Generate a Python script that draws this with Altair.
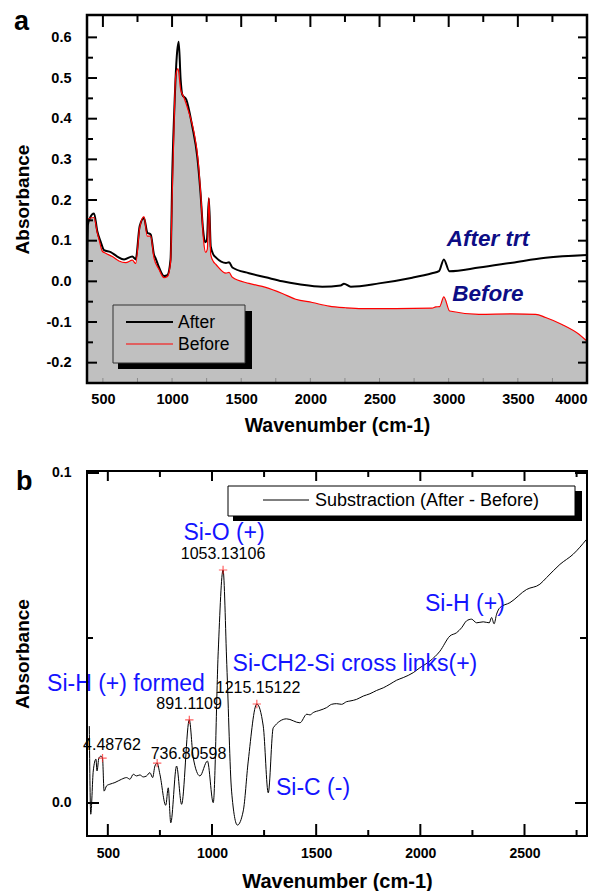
import altair as alt
import pandas as pd

FONT = "Liberation Sans"

# ---------------- panel a : spectra ----------------
after_wn = [385, 392, 405, 436, 459, 484, 508, 556, 604, 653, 713, 737, 766, 797, 821, 846, 869, 882,
            906, 942, 966, 989, 1002, 1019, 1034, 1048, 1062, 1074, 1103, 1146, 1182, 1205, 1224, 1238,
            1252, 1266, 1280, 1300, 1316, 1390, 1412, 1436, 1556, 1677, 1797, 1918, 2086, 2219, 2243,
            2292, 2496, 2737, 2879, 2930, 2965, 3005, 3219, 3460, 3701, 4000]
after_abs = [0.005, 0.14, 0.155, 0.167, 0.124, 0.097, 0.077, 0.072, 0.061, 0.054, 0.061, 0.054, 0.136,
             0.156, 0.12, 0.115, 0.066, 0.056, 0.034, 0.013, 0.015, 0.054, 0.27, 0.447, 0.553, 0.589,
             0.496, 0.459, 0.447, 0.381, 0.307, 0.22, 0.128, 0.096, 0.103, 0.204, 0.085, 0.065, 0.059,
             0.045, 0.047, 0.034, 0.02, 0.01, 0.0, -0.007, -0.013, -0.010, -0.006, -0.013, -0.005,
             0.009, 0.020, 0.025, 0.054, 0.025, 0.034, 0.046, 0.058, 0.065]

before_wn = [385, 388, 436, 459, 472, 496, 520, 568, 616, 665, 713, 737, 766, 797, 821, 846, 869, 906,
             942, 966, 989, 1000, 1013, 1026, 1043, 1062, 1086, 1122, 1159, 1190, 1210, 1228, 1243,
             1255, 1266, 1280, 1300, 1316, 1390, 1412, 1436, 1556, 1677, 1797, 1894, 2014, 2135, 2255,
             2373, 2617, 2879, 2906, 2935, 2965, 3007, 3219, 3458, 3629, 3701, 3819, 3942, 4000]
before_abs = [-0.25, 0.152, 0.157, 0.12, 0.103, 0.074, 0.069, 0.061, 0.05, 0.046, 0.052, 0.044, 0.132,
              0.159, 0.111, 0.111, 0.058, 0.029, 0.009, 0.012, 0.046, 0.2, 0.366, 0.504, 0.523, 0.472,
              0.452, 0.415, 0.366, 0.292, 0.2, 0.1, 0.071, 0.079, 0.206, 0.065, 0.048, 0.042, 0.02,
              0.022, 0.010, -0.005, -0.015, -0.03, -0.044, -0.052, -0.061, -0.065, -0.067, -0.067,
              -0.066, -0.063, -0.062, -0.038, -0.073, -0.081, -0.080, -0.081, -0.089, -0.106, -0.130,
              -0.147]

a_x_major = [500, 1000, 1500, 2000, 2500, 3000, 3500, 4000]
a_x_minor = [750, 1250, 1750, 2250, 2750, 3250, 3750]
a_x_bottom = [500, 750, 1000, 1250, 1500, 1750, 2000, 2250, 2500, 2750, 3000, 3250, 3500, 3750]
a_y_major = [-0.2, -0.1, 0.0, 0.1, 0.2, 0.3, 0.4, 0.5, 0.6]
a_y_minor = [-0.25, -0.15, -0.05, 0.05, 0.15, 0.25, 0.35, 0.45, 0.55]

a_tag_text = ["After trt", "Before"]
a_tag_x = [3284, 3284]
a_tag_y = [0.103, -0.032]
a_legend = ["After", "Before"]

# ---------------- panel b : difference spectrum ----------------
sub_wn = [411, 418, 430, 443, 448, 457, 467, 474.5, 482, 494, 510, 534, 550, 566, 590, 606, 622, 638,
          654, 670, 686, 702, 715, 726, 736.8, 750, 778, 790, 802, 830, 854, 891.1, 910, 942, 978,
          1006, 1030, 1053.1, 1071, 1094, 1122, 1150, 1174, 1215.2, 1246, 1270, 1294, 1358, 1422,
          1455, 1470, 1486, 1518, 1550, 1574, 1598, 1622, 1646, 1662, 1694, 1726, 1758, 1790, 1822,
          1854, 1886, 1918, 1966, 1998, 2046, 2094, 2142, 2174, 2198, 2222, 2246, 2270, 2302, 2331,
          2342, 2354, 2366, 2382, 2430, 2510, 2574, 2606, 2670, 2734, 2798]
sub_abs = [0.0233, -0.0034, 0.0097, 0.0133, 0.0097, 0.0136, 0.0142, 0.0136, 0.0036, 0.0052, 0.0057,
           0.0062, 0.0067, 0.0072, 0.0077, 0.0072, 0.0087, 0.0082, 0.0085, 0.0079, 0.0082, 0.0092,
           0.0077, 0.0112, 0.0121, 0.0087, -0.0007, 0.0046, -0.006, 0.0112, -0.0004, 0.0252, 0.0137,
           0.0082, 0.0127, 0.0001, 0.046, 0.0706, 0.042, 0.0036, -0.0067, -0.0024, 0.0127, 0.030,
           0.0233, 0.0031, 0.0228, 0.0255, 0.0243, 0.0269, 0.0267, 0.0274, 0.0281, 0.0289, 0.0299,
           0.0301, 0.0299, 0.0307, 0.0309, 0.0314, 0.0324, 0.0331, 0.0341, 0.0349, 0.0360, 0.0372,
           0.0380, 0.0395, 0.0410, 0.0430, 0.0460, 0.0506, 0.0516, 0.0531, 0.0552, 0.0557, 0.0546,
           0.0549, 0.0546, 0.0562, 0.0543, 0.0572, 0.0592, 0.0607, 0.0647, 0.0663, 0.0683, 0.0723,
           0.0754, 0.0799]

peak_wn = [474.48762, 736.80598, 891.1109, 1053.13106, 1215.15122]
peak_abs = [0.0136, 0.0121, 0.0252, 0.0706, 0.030]
num_text = ["4.48762", "736.80598", "891.1109", "1053.13106", "1215.15122"]
num_x = [520, 887, 890, 1053, 1221]
num_y = [0.0176, 0.0148, 0.030, 0.0755, 0.0348]
band_text = ["Si-O (+)", "Si-H (+)", "Si-CH2-Si cross links(+)", "Si-H (+) formed", "Si-C (-)"]
band_x = [1058, 2214, 1686, 587, 1485]
band_y = [0.0818, 0.0603, 0.0421, 0.0361, 0.0045]

b_x_major = [500, 1000, 1500, 2000, 2500]
b_x_minor = [750, 1250, 1750, 2250, 2750]
b_y_major = [0.0, 0.1]
b_y_minor = [0.05]
b_legend = ["Substraction (After - Before)"]

# ---------------- helpers ----------------
WA, HA = 500, 368
WB, HB = 500, 365
xa = alt.Scale(domain=[385, 4000], nice=False, zero=False)
ya = alt.Scale(domain=[-0.25, 0.655], nice=False, zero=False)
xb = alt.Scale(domain=[400, 2800], nice=False, zero=False)
yb = alt.Scale(domain=[-0.01, 0.1006], nice=False, zero=False)
MINUS = "replace(format(datum.value, '.1f'), '\u2212', '-')"


def one():
    return alt.Data(values=[{"k": 0}])


def xticks(vals, scale, h, top, length, color="black", width=2):
    df = pd.DataFrame({"v": vals})
    y0, y1 = (0, length) if top else (h - length, h)
    return alt.Chart(df).mark_rule(color=color, strokeWidth=width).encode(
        x=alt.X("v:Q", scale=scale, axis=None), y=alt.value(y0), y2=alt.value(y1))


def yticks(vals, scale, w, left, length, color="black", width=2):
    df = pd.DataFrame({"v": vals})
    x0, x1 = (0, length) if left else (w - length, w)
    return alt.Chart(df).mark_rule(color=color, strokeWidth=width).encode(
        y=alt.Y("v:Q", scale=scale, axis=None), x=alt.value(x0), x2=alt.value(x1))


def box(x0, x1, y0, y1, fill, stroke=None, sw=0):
    kw = dict(fill=fill)
    if stroke:
        kw.update(stroke=stroke, strokeWidth=sw)
    return alt.Chart(one()).mark_rect(**kw).encode(
        x=alt.value(x0), x2=alt.value(x1), y=alt.value(y0), y2=alt.value(y1))


def seg(x0, x1, y, color, sw):
    return alt.Chart(one()).mark_rule(color=color, strokeWidth=sw).encode(
        x=alt.value(x0), x2=alt.value(x1), y=alt.value(y))


def label(txt, x, y, size, weight="normal", color="black", align="left", baseline="middle"):
    return alt.Chart(one()).mark_text(text=txt, font=FONT, fontSize=size, fontWeight=weight,
                                      color=color, align=align, baseline=baseline).encode(
        x=alt.value(x), y=alt.value(y))


def frame(w, h, sw):
    return alt.Chart(one()).mark_rect(fill=None, stroke="black", strokeWidth=sw).encode(
        x=alt.value(0), x2=alt.value(w), y=alt.value(0), y2=alt.value(h))


# ---------------- panel a ----------------
df_after = pd.DataFrame({"wn": after_wn, "abs": after_abs})
df_before = pd.DataFrame({"wn": before_wn, "abs": before_abs})

x_axis_a = alt.Axis(values=a_x_major, format="d", title="Wavenumber (cm-1)", ticks=False, domain=False,
                    grid=False, labelFont=FONT, labelFontSize=14.5, labelFontWeight="bold",
                    labelColor="black", labelPadding=9, labelOverlap=False, titleFont=FONT,
                    titleFontSize=19.5, titleFontWeight="bold", titleColor="black", titlePadding=11)
y_axis_a = alt.Axis(values=a_y_major, labelExpr=MINUS, title="Absorbance", ticks=False, domain=False,
                    grid=False, labelFont=FONT, labelFontSize=14.5, labelFontWeight="bold",
                    labelColor="black", labelPadding=16, labelOverlap=False, titleFont=FONT,
                    titleFontSize=19, titleFontWeight="bold", titleColor="black", titlePadding=14)

area_a = alt.Chart(df_before).mark_area(color="#c0c0c0", interpolate="monotone", clip=True).encode(
    x=alt.X("wn:Q", scale=xa, axis=x_axis_a),
    y=alt.Y("abs:Q", scale=ya, axis=y_axis_a),
    y2=alt.datum(-0.25))
line_after = alt.Chart(df_after).mark_line(color="black", strokeWidth=2, interpolate="monotone",
                                           clip=True).encode(
    x=alt.X("wn:Q", scale=xa, axis=None), y=alt.Y("abs:Q", scale=ya, axis=None))
line_before = alt.Chart(df_before).mark_line(color="#ff0000", strokeWidth=1.2, interpolate="monotone",
                                             clip=True).encode(
    x=alt.X("wn:Q", scale=xa, axis=None), y=alt.Y("abs:Q", scale=ya, axis=None))

tags_a = alt.Chart(pd.DataFrame({"t": a_tag_text, "x": a_tag_x, "y": a_tag_y})).mark_text(
    font=FONT, fontSize=22.5, fontWeight="bold", fontStyle="italic", color="#0d0d85",
    align="center", baseline="middle").encode(
    x=alt.X("x:Q", scale=xa, axis=None), y=alt.Y("y:Q", scale=ya, axis=None), text="t:N")

panel_a = alt.layer(
    area_a, line_after, line_before,
    xticks(a_x_major, xa, HA, True, 12), xticks(a_x_minor, xa, HA, True, 7),
    xticks(a_x_bottom, xa, HA, False, 5, color="#8a8a8a", width=1),
    yticks(a_y_major, ya, WA, True, 10), yticks(a_y_minor, ya, WA, True, 6),
    yticks(a_y_major, ya, WA, False, 9), yticks(a_y_minor, ya, WA, False, 5),
    box(31, 165, 296, 354, "black"),
    box(26, 158, 290, 348, "#c0c0c0", "#333333", 1),
    seg(39, 86, 307, "black", 2), seg(39, 86, 329, "#ff0000", 1.2),
    label(a_legend[0], 91, 308, 17.5), label(a_legend[1], 91, 330, 17.5),
    tags_a,
    frame(WA, HA, 2.5),
    label("a", -73, 15, 27, weight="bold", baseline="alphabetic"),
).resolve_axis(x="independent", y="independent").properties(width=WA, height=HA)

# ---------------- panel b ----------------
df_sub = pd.DataFrame({"wn": sub_wn, "abs": sub_abs})

x_axis_b = alt.Axis(values=b_x_major, format="d", title="Wavenumber (cm-1)", ticks=False, domain=False,
                    grid=False, labelFont=FONT, labelFontSize=14, labelFontWeight="bold",
                    labelColor="black", labelPadding=10, labelOverlap=False, titleFont=FONT,
                    titleFontSize=20, titleFontWeight="bold", titleColor="black", titlePadding=11)
y_axis_b = alt.Axis(values=b_y_major, labelExpr=MINUS, title="Absorbance", ticks=False, domain=False,
                    grid=False, labelFont=FONT, labelFontSize=14, labelFontWeight="bold",
                    labelColor="black", labelPadding=16, labelOverlap=False, titleFont=FONT,
                    titleFontSize=19, titleFontWeight="bold", titleColor="black", titlePadding=19)

line_sub = alt.Chart(df_sub).mark_line(color="black", strokeWidth=1, interpolate="monotone",
                                       clip=True).encode(
    x=alt.X("wn:Q", scale=xb, axis=x_axis_b), y=alt.Y("abs:Q", scale=yb, axis=y_axis_b))

peaks = alt.Chart(pd.DataFrame({"x": peak_wn, "y": peak_abs})).mark_point(
    shape="M-1,0H1M0,-1V1", size=70, stroke="#ff2020", strokeWidth=1.2, filled=False).encode(
    x=alt.X("x:Q", scale=xb, axis=None), y=alt.Y("y:Q", scale=yb, axis=None))

nums = alt.Chart(pd.DataFrame({"t": num_text, "x": num_x, "y": num_y})).mark_text(
    font=FONT, fontSize=16, color="black", align="center", baseline="middle").encode(
    x=alt.X("x:Q", scale=xb, axis=None), y=alt.Y("y:Q", scale=yb, axis=None), text="t:N")

bands = alt.Chart(pd.DataFrame({"t": band_text, "x": band_x, "y": band_y})).mark_text(
    font=FONT, fontSize=23, color="#1414ff", align="center", baseline="middle").encode(
    x=alt.X("x:Q", scale=xb, axis=None), y=alt.Y("y:Q", scale=yb, axis=None), text="t:N")

panel_b = alt.layer(
    line_sub, peaks, nums, bands,
    xticks(b_x_major, xb, HB, True, 10), xticks(b_x_minor, xb, HB, True, 6),
    xticks(b_x_major, xb, HB, False, 12), xticks(b_x_minor, xb, HB, False, 6),
    yticks(b_y_major, yb, WB, True, 12), yticks(b_y_minor, yb, WB, True, 6),
    yticks(b_y_major, yb, WB, False, 12), yticks(b_y_minor, yb, WB, False, 7),
    box(146, 495, 20, 50, "black"),
    box(141, 488, 15, 45, "white", "black", 1),
    seg(176, 222, 29, "black", 1),
    label(b_legend[0], 228, 30, 18),
    frame(WB, HB, 2),
    label("b", -71, 19, 27, weight="bold", baseline="alphabetic"),
).resolve_axis(x="independent", y="independent").properties(width=WB, height=HB)

chart = alt.vconcat(panel_a, panel_b, spacing=30,
                    padding={"left": 13, "top": 8, "right": 0, "bottom": 0}).configure_view(stroke=None)

chart.save("out.html", embed_options={"renderer": "svg", "actions": False})
